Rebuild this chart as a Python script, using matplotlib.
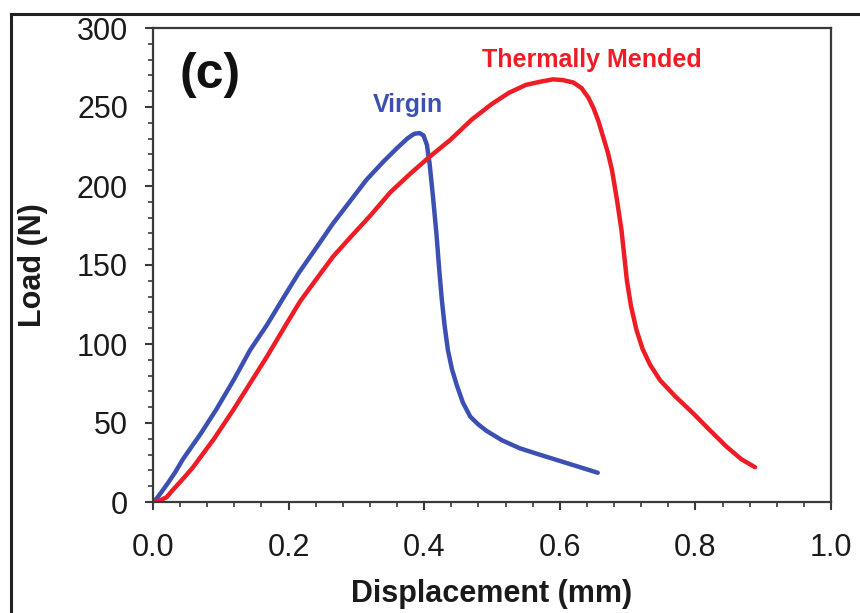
import matplotlib
matplotlib.use("Agg")
import matplotlib.pyplot as plt
from matplotlib.lines import Line2D
from matplotlib.ticker import MultipleLocator

plt.rcParams['font.family'] = ['Liberation Sans', 'DejaVu Sans']

# curves: displacement (mm), load (N)
virgin_x = [0.0, 0.005, 0.012, 0.022, 0.033, 0.044, 0.07, 0.094, 0.12, 0.143,
            0.168, 0.192, 0.215, 0.241, 0.265, 0.29, 0.315, 0.34, 0.36, 0.375,
            0.385, 0.393, 0.399, 0.404, 0.408, 0.413, 0.418, 0.422, 0.426, 0.430,
            0.435, 0.441, 0.448, 0.457, 0.468, 0.48, 0.492, 0.515, 0.541, 0.57,
            0.60, 0.63, 0.656]
virgin_y = [0, 2, 6, 12, 19, 27, 43, 59, 78, 96,
            112, 129, 145, 161, 176, 190, 204, 215.5, 224, 230,
            233, 233.5, 232, 226, 214, 193, 170, 148, 128, 112,
            96, 84, 74, 63, 54, 49, 45, 39, 34, 30,
            26, 22, 18.5]

mended_x = [0.0, 0.01, 0.02, 0.03, 0.045, 0.059, 0.09, 0.118, 0.143, 0.168,
            0.193, 0.217, 0.24, 0.265, 0.29, 0.32, 0.35, 0.38, 0.408, 0.438,
            0.47, 0.50, 0.525, 0.55, 0.571, 0.59, 0.605, 0.62, 0.632, 0.642,
            0.65, 0.657, 0.664, 0.671, 0.677, 0.684, 0.691, 0.695, 0.699, 0.705,
            0.713, 0.722, 0.733, 0.748, 0.77, 0.797, 0.82, 0.846, 0.868, 0.888]
mended_y = [0, 1, 3, 8, 15, 22, 40, 58, 75, 92,
            110, 127, 140.5, 155, 167, 181, 196, 208, 218.5, 229,
            242, 252, 259, 264, 266, 267.5, 267, 265.5, 262, 256,
            249, 241, 231, 221, 210, 192, 172, 156, 140, 124,
            109, 97, 87, 77, 67, 56, 46, 35, 27, 22]

blue = '#3c50b4'
red = '#ee1c25'
spine_col = '#3a3a3a'

fig = plt.figure(figsize=(8.6, 6.13), dpi=100)
ax = fig.add_axes([153 / 860, 1 - 502 / 613, 678 / 860, 474 / 613])

ax.plot(virgin_x, virgin_y, color=blue, lw=3.2, solid_capstyle='round', solid_joinstyle='round')
ax.plot(mended_x, mended_y, color=red, lw=3.2, solid_capstyle='round', solid_joinstyle='round')

ax.set_xlim(0, 1.0)
ax.set_ylim(0, 300)
ax.xaxis.set_major_locator(MultipleLocator(0.2))
ax.xaxis.set_minor_locator(MultipleLocator(0.04))
ax.yaxis.set_major_locator(MultipleLocator(50))
ax.yaxis.set_minor_locator(MultipleLocator(10))
ax.xaxis.set_major_formatter(plt.FormatStrFormatter('%.1f'))

for s in ax.spines.values():
    s.set_color(spine_col)
    s.set_linewidth(1.6)

ax.tick_params(which='both', direction='out', top=False, right=False, color=spine_col)
ax.tick_params(which='major', length=6, width=1.5, labelsize=22, labelcolor='#1a1a1a')
ax.tick_params(which='minor', length=3.5, width=1.2)
ax.tick_params(axis='x', which='major', pad=16)
ax.tick_params(axis='y', which='major', pad=12)

ax.set_xlabel('Displacement (mm)', fontsize=22, fontweight='bold', color='#1a1a1a')
ax.set_ylabel('Load (N)', fontsize=22, fontweight='bold', color='#1a1a1a')
ax.xaxis.set_label_coords(0.5, -0.163)
ax.yaxis.set_label_coords(-0.155, 0.5)

ax.text(0.376, 251, 'Virgin', color=blue, fontsize=18, fontweight='bold', ha='center', va='center')
ax.text(0.647, 280, 'Thermally Mended', color=red, fontsize=18, fontweight='bold', ha='center', va='center')
ax.text(0.084, 270, '(c)', color='#111111', fontsize=36, fontweight='bold', ha='center', va='center')

# outer frame of the panel
fx = 11 / 860
fy = 1 - 14 / 613
fig.add_artist(Line2D([fx, fx], [0, fy], transform=fig.transFigure, color='#222222', lw=2.2))
fig.add_artist(Line2D([fx, 1], [fy, fy], transform=fig.transFigure, color='#222222', lw=2.2))

fig.savefig('out.png', dpi=100)
